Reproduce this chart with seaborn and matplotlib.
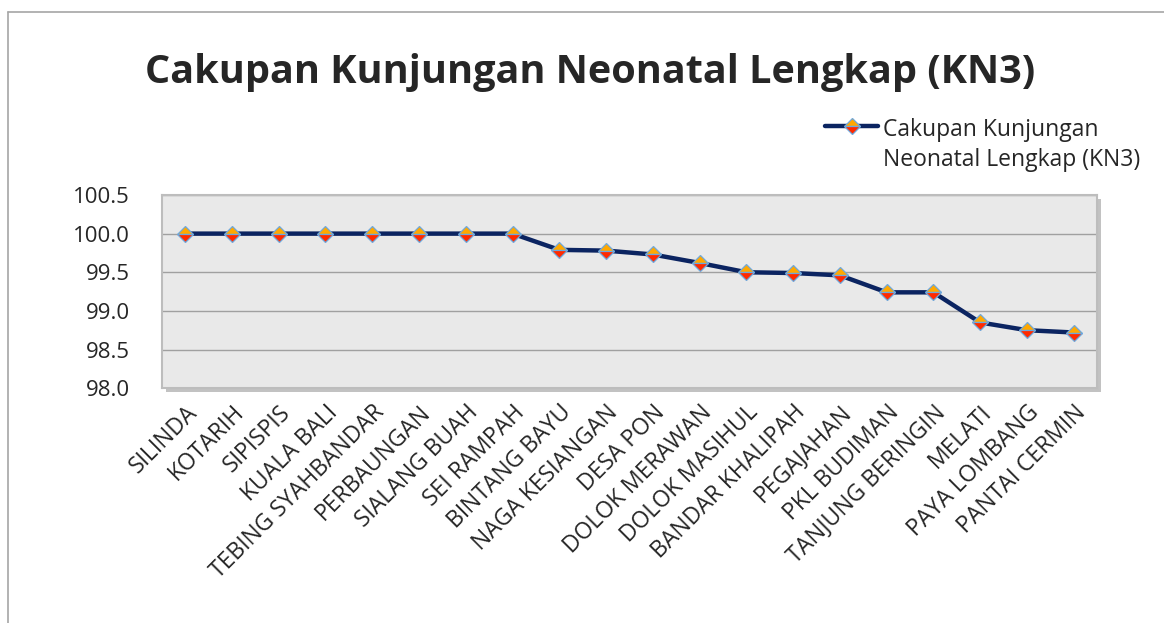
import matplotlib
matplotlib.use("Agg")
import matplotlib.pyplot as plt
import matplotlib.patheffects as pe
from matplotlib.lines import Line2D
import seaborn as sns
import pandas as pd

# data
kecamatan = ["SILINDA", "KOTARIH", "SIPISPIS", "KUALA BALI", "TEBING SYAHBANDAR",
             "PERBAUNGAN", "SIALANG BUAH", "SEI RAMPAH", "BINTANG BAYU",
             "NAGA KESIANGAN", "DESA PON", "DOLOK MERAWAN", "DOLOK MASIHUL",
             "BANDAR KHALIPAH", "PEGAJAHAN", "PKL BUDIMAN", "TANJUNG BERINGIN",
             "MELATI", "PAYA LOMBANG", "PANTAI CERMIN"]
kn3 = [100.0, 100.0, 100.0, 100.0, 100.0, 100.0, 100.0, 100.0, 99.79,
       99.78, 99.73, 99.62, 99.50, 99.49, 99.46, 99.24, 99.24,
       98.85, 98.75, 98.72]
y_ticks = [98.0, 98.5, 99.0, 99.5, 100.0, 100.5]
series_name = "Cakupan Kunjungan\nNeonatal Lengkap (KN3)"
title = "Cakupan Kunjungan Neonatal Lengkap (KN3)"

df = pd.DataFrame({"kecamatan": kecamatan, "kn3": kn3})

sns.set_style("white")
plt.rcParams["font.family"] = ["Open Sans", "DejaVu Sans"]

fig = plt.figure(figsize=(11.64, 6.23), dpi=100)
ax = fig.add_axes([0.139, 0.377, 0.8035, 0.310])

ax.patch.set_facecolor("#e9e9e9")
ax.patch.set_path_effects([pe.SimplePatchShadow(offset=(3, -3), shadow_rgbFace="#9a9a9a", alpha=0.6),
                           pe.Normal()])

sns.lineplot(data=df, x="kecamatan", y="kn3", sort=False, ax=ax,
             color="#0b2461", linewidth=3.2, label=series_name,
             marker="D", markersize=8, fillstyle="top",
             markerfacecolor="#ffa800", markerfacecoloralt="#ff2a00",
             markeredgecolor="#6fa8dc", markeredgewidth=0.9)

ax.set_xlim(-0.5, len(kecamatan) - 0.5)
ax.set_ylim(98.0, 100.5)
ax.set_yticks(y_ticks)
ax.set_yticklabels([f"{v:.1f}" for v in y_ticks], fontsize=16)
ax.yaxis.grid(True, color="#a0a0a0", linewidth=1.0)
ax.set_axisbelow(True)
ax.tick_params(axis="y", length=0, pad=23)
ax.tick_params(axis="x", length=0, pad=9)
ax.set_xticks(range(len(kecamatan)))
ax.set_xticklabels(kecamatan, rotation=45, ha="right", rotation_mode="anchor", fontsize=16.5)
ax.set_xlabel("")
ax.set_ylabel("")
for s in ax.spines.values():
    s.set_color("#bdbdbd")
    s.set_linewidth(1.5)

fig.suptitle(title, x=0.507, y=0.915, fontsize=28.5, fontweight="bold")

leg = ax.legend(loc="upper left", bbox_to_anchor=(0.709, 0.81), bbox_transform=fig.transFigure,
                frameon=False, fontsize=16.5, handlelength=2.3, handletextpad=0.2,
                borderaxespad=0, borderpad=0)
leg.get_texts()[0].set_linespacing(1.3)
# put the legend line next to the first text line, like Excel does
for col in leg._legend_handle_box.get_children():
    for row in col.get_children():
        row.align = "top"

# outer chart border
fig.add_artist(Line2D([8 / 1164, 1.0], [1 - 12 / 623, 1 - 12 / 623], color="#a6a6a6", linewidth=1.2,
                      transform=fig.transFigure))
fig.add_artist(Line2D([8 / 1164, 8 / 1164], [1 - 12 / 623, 0.0], color="#a6a6a6", linewidth=1.2,
                      transform=fig.transFigure))

fig.savefig("out.png", dpi=100)
